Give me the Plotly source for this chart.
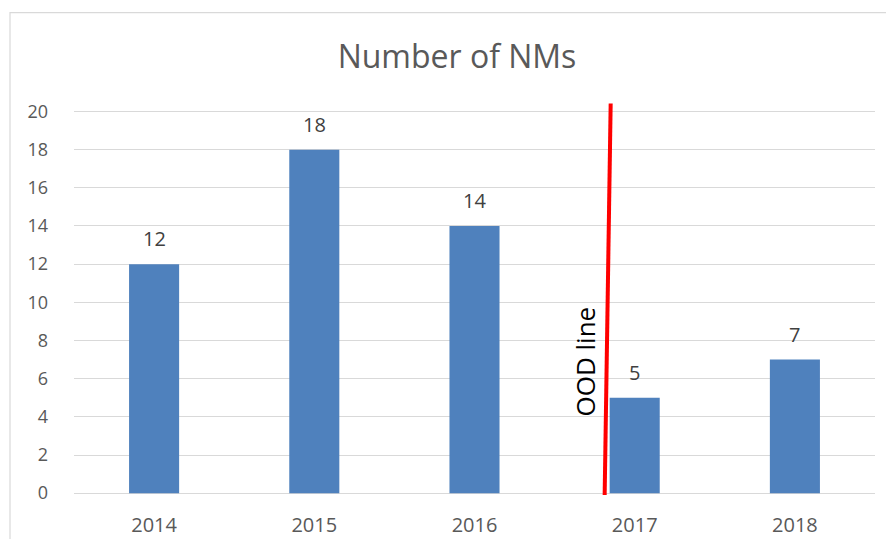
import plotly.graph_objects as go

# Data
years = ["2014", "2015", "2016", "2017", "2018"]
nms = [12, 18, 14, 5, 7]
y_ticks = [0, 2, 4, 6, 8, 10, 12, 14, 16, 18, 20]

title_text = "Number of NMs"
ood_label = "OOD line"
# OOD line endpoints in data coordinates (category index, value)
ood_x = [2.8125, 2.85]
ood_y = [-0.1, 20.42]
ood_label_pos = (2.69, 6.9)

FONT = "Open Sans"
OFF = 8  # browser body margin offset
W, H = 894 - 2 * OFF, 547 - 2 * OFF
L, R, T, B = 74 - OFF, 11, 99.5 - OFF, 42.2

xpos = list(range(len(years)))

fig = go.Figure()
fig.add_trace(go.Bar(
    x=xpos, y=nms, width=0.3125,
    marker=dict(color="#4F81BD", line=dict(width=0)),
    hovertext=years, hoverinfo="text+y",
))

annotations = []
for xi, v in zip(xpos, nms):
    annotations.append(dict(
        x=xi, y=v, xref="x", yref="y", text=str(v), showarrow=False,
        yanchor="bottom", yshift=10,
        font=dict(family=FONT, size=20, color="#404040"),
    ))
annotations.append(dict(
    x=ood_label_pos[0], y=ood_label_pos[1], xref="x", yref="y",
    text=ood_label, showarrow=False, textangle=-90,
    font=dict(family=FONT, size=26, color="#000000"),
))

plot_h = H - T - B
plot_w = W - L - R

shapes = [
    dict(type="line", xref="x", yref="y",
         x0=ood_x[0], y0=ood_y[0], x1=ood_x[1], y1=ood_y[1],
         line=dict(color="#FF0000", width=4), layer="above"),
    # chart outer border (left + top edges visible)
    dict(type="rect", xref="paper", yref="paper",
         x0=(10 - OFF - L) / plot_w, x1=(W + 20 - L) / plot_w,
         y0=(H - B - (H + 20)) / plot_h, y1=(H - B - (12 - OFF)) / plot_h,
         line=dict(color="#D9D9D9", width=1.2), fillcolor="rgba(0,0,0,0)",
         layer="below"),
]

fig.update_layout(
    width=W, height=H,
    margin=dict(l=L, r=R, t=T, b=B, pad=0, autoexpand=False),
    paper_bgcolor="white", plot_bgcolor="white",
    title=dict(text=title_text, x=(457 - OFF) / W, xanchor="center",
               y=1 - (57 - OFF) / H, yanchor="middle", yref="container",
               automargin=False,
               font=dict(family=FONT, size=32, color="#595959")),
    showlegend=False,
    annotations=annotations,
    shapes=shapes,
    font=dict(family=FONT),
)
fig.update_xaxes(
    range=[-0.5, len(years) - 0.5], tickvals=xpos, ticktext=years,
    showgrid=False, showline=False, zeroline=False, automargin=False,
    ticks="", tickfont=dict(family=FONT, size=20, color="#595959"),
    ticklabelstandoff=14,
)
fig.update_yaxes(
    range=[-0.2, 20.6], tickvals=y_ticks, showgrid=True,
    gridcolor="#D9D9D9", gridwidth=1.2, zeroline=True,
    zerolinecolor="#D9D9D9", zerolinewidth=1.2, showline=False,
    automargin=False,
    ticks="", tickfont=dict(family=FONT, size=18, color="#595959"),
    ticklabelstandoff=25,
)

fig.write_html("out.html")
